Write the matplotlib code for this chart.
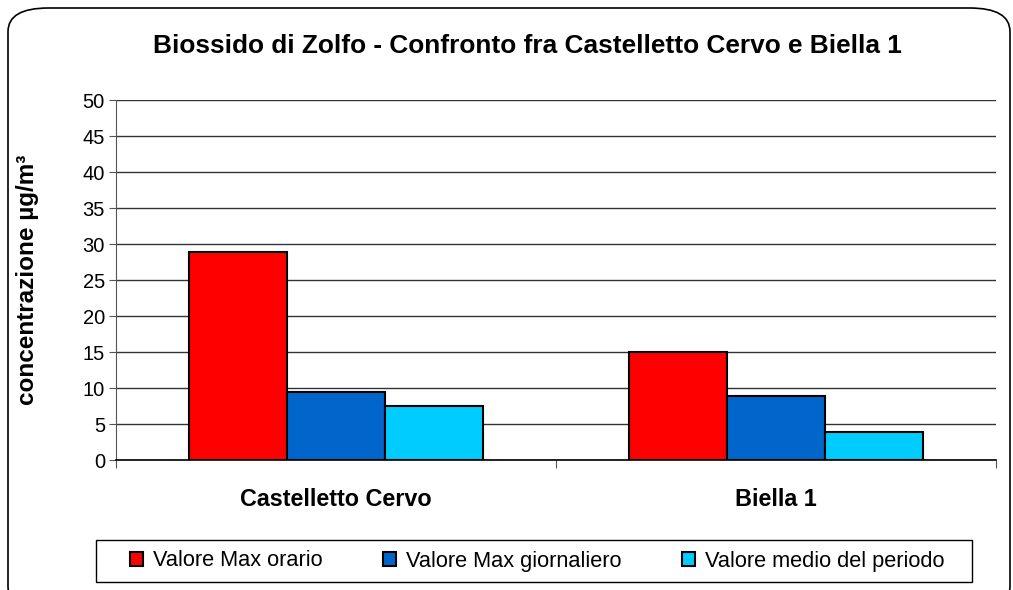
import matplotlib.pyplot as plt
import numpy as np
from matplotlib.patches import FancyBboxPatch, Rectangle

categories = ['Castelletto Cervo', 'Biella 1']
series_names = ['Valore Max orario', 'Valore Max giornaliero', 'Valore medio del periodo']
max_orario = [28.9, 15.0]
max_giornaliero = [9.4, 8.9]
medio_periodo = [7.5, 3.9]
colors = ['#ff0000', '#0066cc', '#00ccff']

plt.rcParams['font.family'] = ['Liberation Sans', 'DejaVu Sans']

W, H = 1013, 590
fig = plt.figure(figsize=(W / 100, H / 100), dpi=100)

# outer rounded frame
frame = FancyBboxPatch((8 / W, -20 / H), 1002 / W, (H - 8 + 20) / H,
                       boxstyle='round,pad=0,rounding_size=0.04',
                       transform=fig.transFigure, fill=False,
                       edgecolor='black', linewidth=1.2)
fig.patches.append(frame)

ax = fig.add_axes([116 / W, (H - 460) / H, 880 / W, 360 / H])

x = np.arange(len(categories))
w = 0.223
for i, (vals, name) in enumerate(zip([max_orario, max_giornaliero, medio_periodo], series_names)):
    ax.bar(x + (i - 1) * w, vals, w, color=colors[i], edgecolor='black',
           linewidth=1.5, label=name, zorder=3)

ax.set_xlim(-0.5, 1.5)
ax.set_ylim(0, 50)
ax.set_yticks(np.arange(0, 51, 5))
ax.yaxis.grid(True, color='#333333', linewidth=1.0, zorder=0)
for s in ['top', 'right']:
    ax.spines[s].set_visible(False)
ax.spines['left'].set_color('#555555')
ax.spines['bottom'].set_color('black')
ax.spines['bottom'].set_linewidth(1.2)
ax.tick_params(axis='y', direction='out', length=5, color='#555555',
               labelsize=14.5, pad=3)

ax.set_xticks([-0.5, 0.5, 1.5])
ax.set_xticklabels([])
ax.set_xticks(x, minor=True)
ax.set_xticklabels(categories, minor=True, fontsize=16.8, fontweight='bold')
ax.tick_params(axis='x', which='major', direction='out', length=6, color='#555555')
ax.tick_params(axis='x', which='minor', length=0, pad=20)

ax.set_ylabel('concentrazione µg/m³', fontsize=17.5, fontweight='bold')
ax.yaxis.set_label_coords(-77 / 880, 0.5)

fig.text(527 / W, 1 - 46 / H, 'Biossido di Zolfo - Confronto fra Castelletto Cervo e Biella 1',
         ha='center', va='center', fontsize=18.9, fontweight='bold')

# legend box drawn separately so it can be wider than the entries
fig.patches.append(Rectangle((96 / W, 1 - 582 / H), 876 / W, 42 / H,
                             transform=fig.transFigure, fill=False,
                             edgecolor='black', linewidth=1.0))
leg = fig.legend(loc='center', bbox_to_anchor=(537 / W, 1 - 561 / H), ncol=3,
                 frameon=False, prop={'size': 15.7},
                 handlelength=0.6, handleheight=0.6, handletextpad=0.45,
                 columnspacing=2.77, borderpad=0.45, borderaxespad=0)

fig.savefig('out.png', dpi=100)
